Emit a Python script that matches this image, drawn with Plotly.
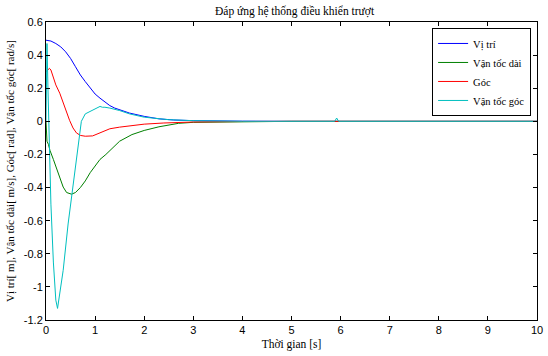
import plotly.graph_objects as go

# Data (time in s)
t_pos = [0, 0.1, 0.2, 0.3, 0.4, 0.5, 0.6, 0.7, 0.8, 0.9, 1.0, 1.1, 1.2, 1.3, 1.4, 1.5, 1.7, 2.0, 2.3, 2.6, 3.0, 4.0, 5.0, 10.0]
pos = [0.49, 0.485, 0.47, 0.45, 0.42, 0.38, 0.33, 0.28, 0.24, 0.2, 0.165, 0.14, 0.115, 0.095, 0.08, 0.07, 0.05, 0.03, 0.015, 0.008, 0.004, 0.001, 0.0, 0.0]

t_vel = [0, 0.02, 0.05, 0.08, 0.15, 0.21, 0.28, 0.35, 0.42, 0.52, 0.6, 0.7, 0.8, 0.9, 1.0, 1.1, 1.22, 1.35, 1.5, 1.75, 2.0, 2.3, 2.7, 3.0, 4.0, 5.0, 10.0]
vel = [0.0, -0.12, -0.14, -0.175, -0.23, -0.28, -0.34, -0.397, -0.43, -0.44, -0.43, -0.4, -0.36, -0.31, -0.27, -0.23, -0.2, -0.16, -0.12, -0.08, -0.055, -0.033, -0.012, -0.006, -0.001, 0.0, 0.0]

t_ang = [0, 0.07, 0.1, 0.15, 0.2, 0.28, 0.35, 0.42, 0.48, 0.55, 0.62, 0.7, 0.8, 0.95, 1.1, 1.3, 1.5, 1.75, 2.0, 2.4, 3.0, 4.0, 5.0, 10.0]
ang = [0.3, 0.32, 0.31, 0.27, 0.22, 0.17, 0.11, 0.05, 0.006, -0.04, -0.07, -0.085, -0.09, -0.088, -0.07, -0.045, -0.035, -0.024, -0.017, -0.01, -0.004, -0.001, 0.0, 0.0]

t_angv = [0, 0.02, 0.04, 0.07, 0.1, 0.15, 0.2, 0.235, 0.28, 0.35, 0.45, 0.52, 0.6, 0.68, 0.72, 0.8, 0.9, 1.0, 1.1, 1.15, 1.2, 1.3, 1.5, 1.7, 2.0, 2.5, 3.0, 4.0, 5.0, 5.88, 5.92, 5.96, 10.0]
angv = [0.0, 0.47, 0.2, -0.25, -0.5, -0.85, -1.08, -1.13, -1.05, -0.9, -0.62, -0.45, -0.26, -0.09, 0.0, 0.045, 0.06, 0.075, 0.09, 0.085, 0.085, 0.08, 0.065, 0.045, 0.025, 0.01, 0.004, 0.0, 0.0, 0.0, 0.02, 0.0, 0.0]

names = ["Vị trí", "Vận tốc dài", "Góc", "Vận tốc góc"]
colors = ["#0000ff", "#008000", "#ff0000", "#00bfbf"]

fig = go.Figure()
for tx, ys, nm, c in [(t_pos, pos, names[0], colors[0]), (t_vel, vel, names[1], colors[1]),
                      (t_ang, ang, names[2], colors[2]), (t_angv, angv, names[3], colors[3])]:
    fig.add_trace(go.Scatter(x=tx, y=ys, mode="lines", name=nm,
                             line=dict(color=c, width=1)))

serif = "Liberation Serif, Times New Roman, serif"
sans = "Liberation Sans, Arial, sans-serif"

fig.update_layout(
    width=548, height=356,
    margin=dict(l=46, r=5, t=22, b=36),
    paper_bgcolor="white", plot_bgcolor="white",
    title=dict(text="Đáp ứng hệ thống điều khiển trượt", x=0.5375, xanchor="center",
               y=0.968, yanchor="middle", font=dict(family=serif, size=11.5, color="black")),
    showlegend=True,
    legend=dict(x=0.988, y=0.98, xanchor="right", yanchor="top",
                bgcolor="white", bordercolor="black", borderwidth=1,
                font=dict(family=serif, size=10.5, color="black"),
                tracegroupgap=0, itemwidth=30),
    xaxis=dict(range=[0, 10], tickvals=list(range(0, 11)),
               showline=True, linecolor="black", linewidth=1, mirror="allticks",
               ticks="inside", ticklen=4, tickcolor="black",
               showgrid=False, zeroline=False, ticklabeloverflow="allow",
               tickfont=dict(family=sans, size=11, color="black"),
               title=dict(text="Thời gian [s]", standoff=4, font=dict(family=serif, size=11.5, color="black"))),
    yaxis=dict(range=[-1.2, 0.6], tickvals=[-1.2, -1, -0.8, -0.6, -0.4, -0.2, 0, 0.2, 0.4, 0.6],
               ticktext=["-1.2", "-1", "-0.8", "-0.6", "-0.4", "-0.2", "0", "0.2", "0.4", "0.6"],
               showline=True, linecolor="black", linewidth=1, mirror="allticks",
               ticks="inside", ticklen=4, tickcolor="black",
               showgrid=False, zeroline=False,
               tickfont=dict(family=sans, size=11, color="black"),
               title=dict(text="Vị trí[ m], Vận tốc dài[ m/s], Góc[ rad], Vận tốc góc[ rad/s]",
                          standoff=6, font=dict(family=serif, size=11, color="black"))),
)

fig.write_html("out.html")
